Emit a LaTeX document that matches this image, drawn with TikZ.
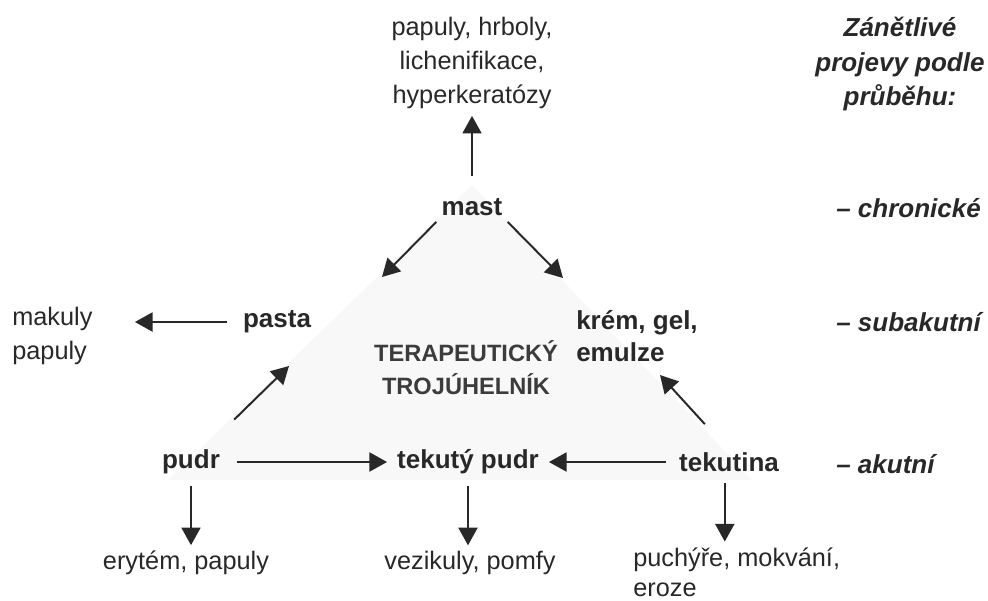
\documentclass[tikz,border=0pt]{standalone}
\usepackage{fontspec}
\setmainfont{Liberation Sans}
\usepackage{xcolor}
\definecolor{tpink}{RGB}{40,40,40}
\definecolor{tpgray}{RGB}{60,60,60}
\definecolor{tpshade}{RGB}{248,248,248}
\usepackage{tikz}
\usetikzlibrary{arrows.meta,positioning,calc}

\tikzset{
  lbl/.style={inner sep=0pt, text=tpink, font=\fontsize{18}{24}\selectfont, align=center},
  drug/.style={inner sep=0pt, text=tpink, font=\fontsize{18.5}{23}\selectfont\bfseries, align=center},
  stage/.style={inner sep=0pt, text=tpink, font=\fontsize{18.5}{24.5}\selectfont\bfseries\itshape, align=center},
  arr/.style={draw=tpink, line width=1.4pt, -{Triangle[length=12.5pt,width=13.5pt]}}
}

\begin{document}
\begin{tikzpicture}[x=0.025cm, y=-0.025cm]
\useasboundingbox (0,0) rectangle (988,600);

% Triangle background
\fill[tpshade] (472,185) -- (752,480) -- (168,480) -- cycle;

% Top
\node[lbl] (top) at (472,63) {papuly, hrboly,\\lichenifikace,\\hyperkeratózy};
\node[drug] (mast) at (472,207) {mast};
\draw[arr, shorten <=16pt, shorten >=5pt] (mast.north) -- (top.south);

% Middle row
\node[drug] (pasta) at (277,322) {pasta};
\node[lbl, align=left, anchor=west] (mak) at (12,336) {makuly\\papuly};
\node[drug, align=left, anchor=west] (krem) at (576,336) {krém, gel,\\emulze};
\node[drug, text=tpgray, font=\fontsize{16.8}{23.5}\selectfont\bfseries] (tri) at (466,368)
  {TERAPEUTICKÝ\\TROJÚHELNÍK};
\draw[arr, shorten <=11pt, shorten >=30pt] (pasta.west) -- (mak.east |- pasta.west);

% Arrows from mast
\coordinate (mL) at (382,277);
\coordinate (mR) at (563,278);
\draw[arr] (mast.south west) ++(-5,6) -- (mL);
\draw[arr] (mast.south east) ++(5,6) -- (mR);

% Bottom row
\node[drug] (pudr) at (191,462) {pudr};
\node[drug] (tpudr) at (468,462) {tekutý pudr};
\node[drug] (tek) at (729,462) {tekutina};
\draw[arr, shorten <=12pt, shorten >=7pt] (pudr.east) -- (tpudr.west);
\draw[arr, shorten <=9pt, shorten >=7pt] (tek.west) -- (tpudr.east);

\coordinate (pA) at (289,366);
\coordinate (kA) at (660,375);
\draw[arr] (pudr.north east) ++(14,-30) -- (pA);
\draw[arr] (tek.north west) ++(26,-28) -- (kA);

% Results
\node[lbl] (ery) at (186,563) {erytém, papuly};
\node[lbl] (vez) at (470,563) {vezikuly, pomfy};
\node[lbl, align=left, anchor=west, font=\fontsize{18}{21.5}\selectfont] (puch) at (633,572)
  {puchýře, mokvání,\\eroze};
\draw[arr, shorten <=8pt, shorten >=4pt] (pudr.south) -- (pudr.south |- ery.north);
\draw[arr, shorten <=8pt, shorten >=4pt] (tpudr.south) -- (tpudr.south |- vez.north);
\draw[arr, shorten <=8pt, shorten >=4pt] ([xshift=-3pt]tek.south) -- ([xshift=-3pt]tek.south |- puch.north);

% Course of inflammation
\node[stage] (zan) at (900,64) {Zánětlivé\\projevy podle\\průběhu:};
\node[stage, anchor=west] (chr) at (836,208) {-- chronické};
\node[stage, anchor=west] (sub) at (836,322) {-- subakutní};
\node[stage, anchor=west] (aku) at (836,464) {-- akutní};

\end{tikzpicture}
\end{document}
